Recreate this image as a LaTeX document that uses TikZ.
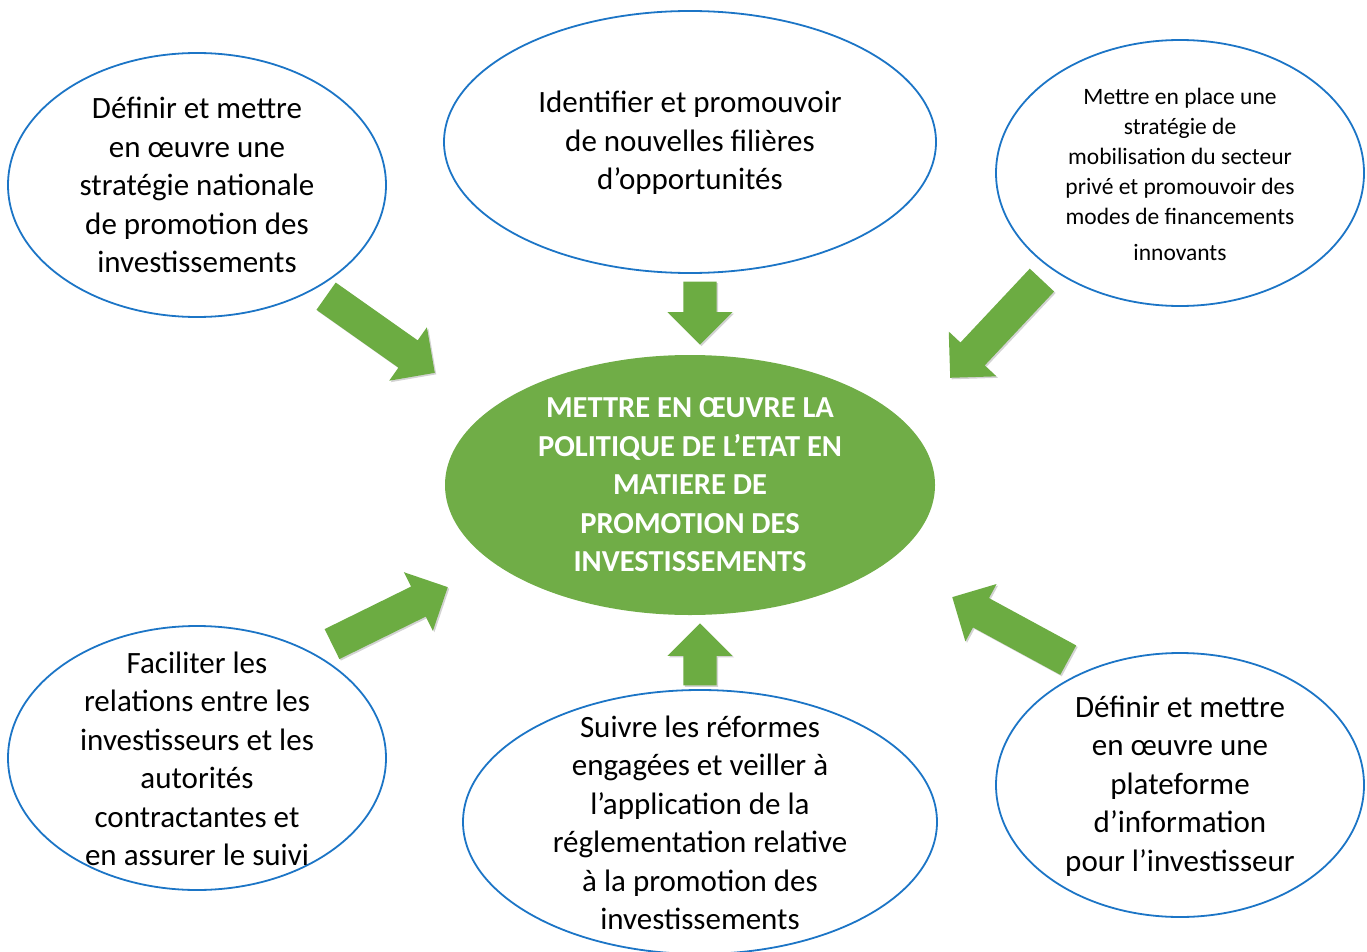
\documentclass[tikz,border=0pt]{standalone}
\usepackage{fontspec}
\setmainfont{Carlito}
\usetikzlibrary{shapes.geometric,shapes.arrows,shadows}
\definecolor{ringblue}{RGB}{28,117,198}
\definecolor{hubgreen}{RGB}{112,173,71}
\definecolor{arrgreen}{RGB}{108,172,66}
\tikzset{
  ring/.style={ellipse,draw=ringblue,line width=1.8pt,fill=white,inner sep=0pt},
  hub/.style={ellipse,fill=hubgreen,inner sep=0pt},
  txt/.style={align=center,inner sep=0pt,font=\fontsize{31}{38.5}\selectfont,text=black},
  smalltxt/.style={align=center,inner sep=0pt,font=\fontsize{23.5}{30}\selectfont,text=black},
  hubtxt/.style={align=center,inner sep=0pt,font=\bfseries\fontsize{30.5}{38.5}\selectfont,text=white},
  blockarrow/.style={single arrow,inner sep=0pt,minimum width=65pt,single arrow head extend=16pt,
    single arrow tip angle=90,fill=arrgreen,anchor=tip,
    drop shadow={opacity=0.35,shadow xshift=1.5pt,shadow yshift=-1.5pt}}
}
\newcommand{\shaftfill}{\rule{0pt}{33pt}}
\begin{document}
\begin{tikzpicture}[x=1pt,y=-1pt]
\useasboundingbox (0,0) rectangle (1367,952);
% ellipses
\node[ring,minimum width=378pt,minimum height=264pt] (e1) at (197,185) {};
\node[ring,minimum width=492pt,minimum height=262pt] (e2) at (690,142) {};
\node[ring,minimum width=368pt,minimum height=266pt] (e3) at (1180,173) {};
\node[hub,minimum width=490pt,minimum height=260pt] (c) at (690,485) {};
\node[ring,minimum width=378pt,minimum height=264pt] (e4) at (197,758) {};
\node[ring,minimum width=474pt,minimum height=264pt] (e5) at (700,822) {};
\node[ring,minimum width=368pt,minimum height=264pt] (e6) at (1180,785) {};
% texts
\node[txt] (t1) at (197,185) {Définir et mettre\\en œuvre une\\stratégie nationale\\de promotion des\\investissements};
\node[txt] (t2) at (690,143) {Identifier et promouvoir\\de nouvelles filières\\d’opportunités};
\node[smalltxt] (t3) at (1180,174) {Mettre en place une\\stratégie de\\mobilisation du secteur\\privé et promouvoir des\\modes de financements\\[6pt]innovants};
\node[hubtxt] (tc) at (690,485) {METTRE EN ŒUVRE LA\\POLITIQUE DE L’ETAT EN\\MATIERE DE\\PROMOTION DES\\INVESTISSEMENTS};
\node[txt] (t4) at (197,759) {Faciliter les\\relations entre les\\investisseurs et les\\autorités\\contractantes et\\en assurer le suivi};
\node[txt] (t5) at (700,823) {Suivre les réformes\\engagées et veiller à\\l’application de la\\réglementation relative\\à la promotion des\\investissements};
\node[txt] (t6) at (1180,786) {Définir et mettre\\en œuvre une\\plateforme\\d’information\\pour l’investisseur};
% arrows (placed by their tips)
\node[blockarrow,minimum height=133pt,rotate=-35.2] (a1) at (435,373) {\shaftfill};
\node[blockarrow,minimum height=63pt,rotate=-90] (a2) at (700,345) {\shaftfill};
\node[blockarrow,minimum height=134pt,rotate=-133.2] (a3) at (950,378) {\shaftfill};
\node[blockarrow,minimum height=129pt,rotate=26.2] (a4) at (448,587) {\shaftfill};
\node[blockarrow,minimum height=62pt,rotate=90] (a5) at (700,623) {\shaftfill};
\node[blockarrow,minimum height=132pt,rotate=151.5] (a6) at (952,597) {\shaftfill};
\end{tikzpicture}
\end{document}
